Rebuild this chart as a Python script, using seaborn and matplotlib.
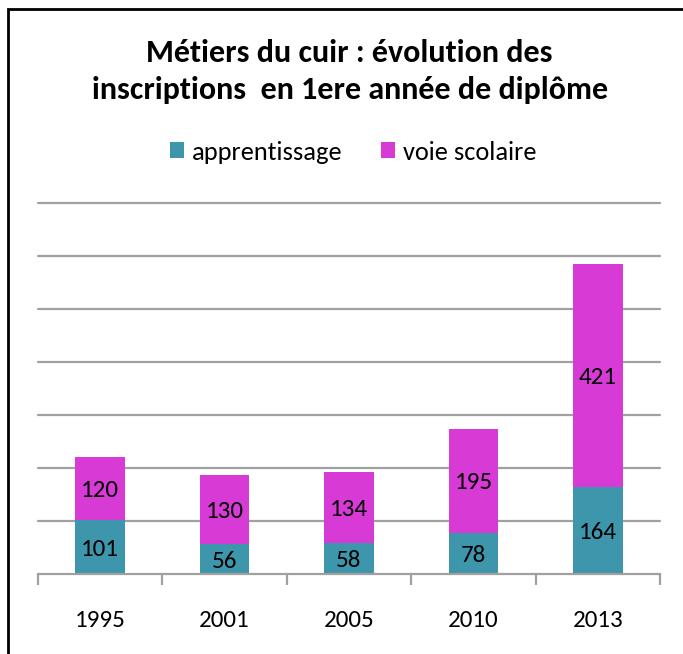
import matplotlib
matplotlib.use("Agg")
import matplotlib.pyplot as plt
import seaborn as sns
import pandas as pd
from matplotlib.patches import Patch, Rectangle

years = ["1995", "2001", "2005", "2010", "2013"]
apprentissage = [101, 56, 58, 78, 164]
voie_scolaire = [120, 130, 134, 195, 421]

TEAL = "#3D96AB"
MAGENTA = "#D83AD6"
GRID = "#A0A0A0"
FONT = ["Carlito", "DejaVu Sans"]

sns.set_theme(style="white")
plt.rcParams["font.family"] = FONT
plt.rcParams["text.color"] = "black"
plt.rcParams["xtick.color"] = "black"

df = pd.DataFrame({"year": years, "app": apprentissage, "vs": voie_scolaire})
df["total"] = df["app"] + df["vs"]

fig = plt.figure(figsize=(6.83, 6.54), dpi=100)
ax = fig.add_axes([38 / 683, 1 - 574 / 654, (660 - 38) / 683, (574 - 203) / 654])

sns.barplot(data=df, x="year", y="total", color=MAGENTA, width=0.4, ax=ax,
            saturation=1, linewidth=0)
sns.barplot(data=df, x="year", y="app", color=TEAL, width=0.4, ax=ax,
            saturation=1, linewidth=0)

ax.set_ylim(0, 700)
ax.set_xlim(-0.5, 4.5)
ax.set_yticks(range(100, 701, 100))
ax.yaxis.grid(True, color=GRID, linewidth=1.6)
for gl in ax.get_ygridlines():
    gl.set_clip_on(False)
ax.set_axisbelow(True)
ax.tick_params(axis="y", left=False, labelleft=False)
for s in ["left", "right", "top"]:
    ax.spines[s].set_visible(False)
ax.spines["bottom"].set_color(GRID)
ax.spines["bottom"].set_linewidth(1.6)
ax.set_xlabel("")
ax.set_ylabel("")
ax.set_xticks(range(len(years)))
ax.set_xticklabels(years, fontsize=18, family=FONT, color="black")
ax.tick_params(axis="x", length=0, pad=26)
ax.set_xticks([i - 0.5 for i in range(len(years) + 1)], minor=True)
ax.tick_params(axis="x", which="minor", length=8, width=1.6, color=GRID, bottom=True)

for i, (a, v) in enumerate(zip(apprentissage, voie_scolaire)):
    ax.text(i, a / 2, str(a), ha="center", va="center_baseline", fontsize=18, family=FONT, color="black")
    ax.text(i, a + v / 2, str(v), ha="center", va="center_baseline", fontsize=18, family=FONT, color="black")

fig.text(349 / 683, 1 - 62 / 654, "Métiers du cuir : évolution des", ha="center", va="baseline",
         fontsize=23, fontweight="bold", family=FONT, color="black")
fig.text(350 / 683, 1 - 99 / 654, "inscriptions  en 1ere année de diplôme", ha="center", va="baseline",
         fontsize=23, fontweight="bold", family=FONT, color="black")

handles = [Patch(facecolor=TEAL, edgecolor="none"), Patch(facecolor=MAGENTA, edgecolor="none")]
fig.legend(handles, ["apprentissage", "voie scolaire"], loc="center",
           bbox_to_anchor=(353.5 / 683, 1 - 152 / 654), ncol=2, frameon=False,
           prop={"family": FONT, "size": 19}, handlelength=0.53, handleheight=0.53,
           handletextpad=0.3, columnspacing=1.45, labelcolor="black",
           borderpad=0, borderaxespad=0)

fig.patches.append(Rectangle((8 / 683, -0.1), 1.2, 1 - 9 / 654 + 0.1, transform=fig.transFigure,
                             fill=False, edgecolor="black", linewidth=2))

fig.savefig("out.png", dpi=100)
